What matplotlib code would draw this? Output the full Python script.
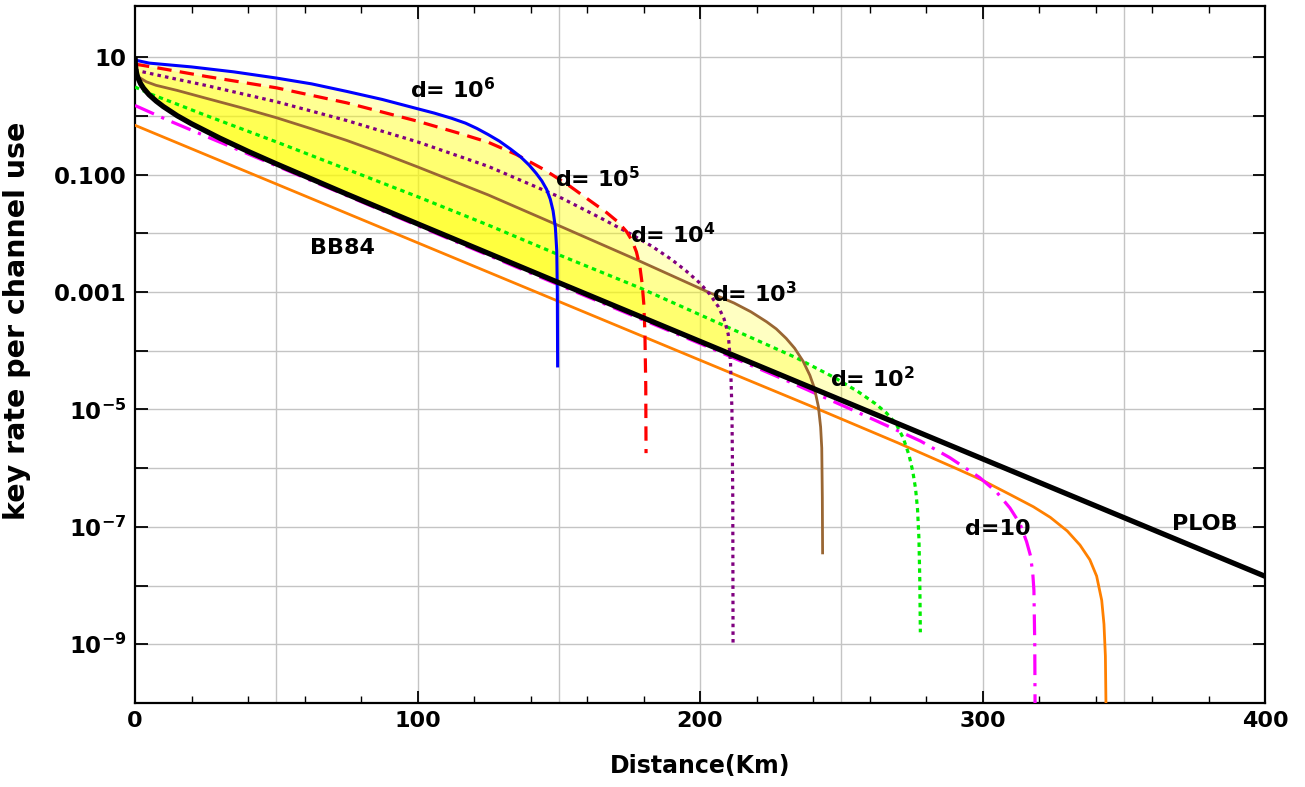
import numpy as np
import matplotlib
matplotlib.use("Agg")
import matplotlib.pyplot as plt
from matplotlib.ticker import FixedLocator, MultipleLocator, NullFormatter

# ---------------------------------------------------------------------------
# Data (distance in km, key rate per channel use)
# ---------------------------------------------------------------------------
plob_x = [0.02, 0.1, 0.3, 0.6, 1, 2, 3, 5, 7.5, 10, 15, 20, 30, 40, 50, 75,
          100, 150, 200, 250, 300, 350, 400]
plob_y = [10.1, 7.76, 6.19, 5.20, 4.47, 3.51, 2.95, 2.28, 1.78, 1.44, 1.00,
          0.732, 0.417, 0.248, 0.152, 0.0463, 0.0145, 1.44e-3, 1.44e-4,
          1.44e-5, 1.44e-6, 1.44e-7, 1.44e-8]

# d = 10^6
d6_x = [0, 5, 20, 35, 50, 62.5, 75, 87.5, 100, 106, 112, 117, 121, 125, 129,
        133, 136.5, 139.5, 142, 144, 145.7, 147, 148, 148.8, 149.3, 149.5,
        149.6]
d6_y = [8.9, 7.9, 6.8, 5.6, 4.4, 3.5, 2.6, 1.9, 1.32, 1.11, 0.91, 0.75, 0.61,
        0.48, 0.37, 0.27, 0.20, 0.145, 0.105, 0.078, 0.056, 0.038, 0.024,
        0.0126, 5.0e-3, 1.0e-3, 5.5e-5]

# d = 10^5
d5_x = [0, 10, 25, 50, 75, 100, 115, 125, 135, 145, 154, 161, 167, 171, 174,
        176, 177.5, 178.7, 179.5, 180.1, 180.5, 180.8, 180.9]
d5_y = [7.6, 6.3, 4.7, 3.0, 1.66, 0.81, 0.50, 0.355, 0.219, 0.120, 0.063,
        0.036, 0.0224, 0.0155, 0.0107, 7.4e-3, 4.8e-3, 2.75e-3, 1.41e-3,
        6.3e-4, 2.0e-4, 2.5e-5, 1.8e-6]

# d = 10^4
d4_x = [0, 10, 25, 50, 75, 100, 125, 150, 165, 175, 183, 190, 195, 200,
        203.5, 206.5, 208.5, 210, 210.8, 211.3, 211.6, 211.7]
d4_y = [6.0, 4.7, 3.3, 1.74, 0.83, 0.36, 0.138, 0.042, 0.018, 0.010, 6.0e-3,
        3.55e-3, 2.3e-3, 1.41e-3, 9.1e-4, 5.6e-4, 3.5e-4, 1.9e-4, 6.3e-5,
        1e-5, 3.2e-7, 1e-9]

# d = 10^3
d3_x = [0, 1.5, 4, 7.5, 15, 25, 37.5, 50, 62.5, 75, 87.5, 100, 125, 150,
        177.5, 202.4, 212, 218, 223.6, 227, 230.5, 233.5, 236.5, 238.9, 240.5,
        241.9, 242.7, 243.1, 243.3, 243.4]
d3_y = [5.2, 4.5, 3.8, 3.3, 2.7, 2.0, 1.38, 0.93, 0.60, 0.38, 0.23, 0.135,
        0.045, 0.0135, 3.55e-3, 1.02e-3, 6.5e-4, 4.6e-4, 3.1e-4, 2.35e-4,
        1.62e-4, 1.1e-4, 6.6e-5, 3.8e-5, 2.3e-5, 1.12e-5, 5.0e-6, 2.2e-6,
        3.2e-7, 3.6e-8]

# d = 10^2
d2_x = [0, 5, 11.8, 25, 50, 75, 100, 125, 150, 178.8, 208, 234, 248, 256,
        262, 266, 269.5, 272, 274, 275.3, 276.3, 277, 277.5, 277.8, 278.0]
d2_y = [3.1, 2.4, 1.8, 1.02, 0.36, 0.123, 0.042, 0.0138, 4.3e-3, 1.17e-3,
        2.75e-4, 7.6e-5, 3.4e-5, 2.0e-5, 1.26e-5, 8.7e-6, 5.6e-6, 3.2e-6,
        1.66e-6, 8.9e-7, 4.5e-7, 2.0e-7, 6.3e-8, 1.26e-8, 1.6e-9]

# d = 10
d1_x = [0, 11.7, 27, 50, 100, 150, 200, 230, 255, 278, 288.5, 299, 305,
        309.7, 313.3, 315.6, 317, 317.8, 318.2, 318.5, 318.6]
d1_y = [1.5, 0.84, 0.41, 0.141, 0.0135, 1.32e-3, 1.32e-4, 3.2e-5, 9.3e-6,
        2.9e-6, 1.5e-6, 6.9e-7, 3.9e-7, 2.1e-7, 1.12e-7, 5.6e-8, 3.2e-8,
        1.6e-8, 8.3e-9, 1e-9, 1e-10]

# BB84
bb84_x = [0, 50, 100, 150, 200, 241, 270, 290, 300, 310, 318, 324, 330,
          334.5, 338, 340.4, 342.2, 343.0, 343.5, 343.7]
bb84_y = [0.69, 0.069, 6.9e-3, 6.9e-4, 6.9e-5, 1.05e-5, 2.7e-6, 1.02e-6,
          6.2e-7, 3.5e-7, 2.2e-7, 1.45e-7, 8.5e-8, 4.9e-8, 2.75e-8, 1.45e-8,
          5.6e-9, 2.2e-9, 6.3e-10, 1e-10]

y_tick_vals = [1e1, 1e0, 1e-1, 1e-2, 1e-3, 1e-4, 1e-5, 1e-6, 1e-7, 1e-8, 1e-9]
y_tick_labels = ['10', '', '0.100', '', '0.001', '', r'$10^{-5}$', '',
                 r'$10^{-7}$', '', r'$10^{-9}$']


def main():
    plt.rcParams['font.family'] = ['DejaVu Sans']
    plt.rcParams['font.weight'] = 'bold'
    plt.rcParams['mathtext.default'] = 'bf'

    fig = plt.figure(figsize=(13.05, 7.87), dpi=100)
    ax = fig.add_axes([135 / 1305, 84 / 787, 1130 / 1305, 697 / 787])
    ax.set_yscale('log')

    # yellow filling between each d curve and the PLOB bound
    plob_log = np.log10(plob_y)
    for cx, cy in [(d6_x, d6_y), (d5_x, d5_y), (d4_x, d4_y), (d3_x, d3_y), (d2_x, d2_y)]:
        xs = np.linspace(0, cx[-1], 1200)
        c_log = np.interp(xs, cx, np.log10(cy))
        p_log = np.interp(xs, plob_x, plob_log)
        ax.fill_between(xs, 10 ** p_log, 10 ** c_log, where=c_log > p_log,
                        interpolate=True, color='#ffff00', alpha=0.24, lw=0, zorder=1)

    # curves
    ax.plot(bb84_x, bb84_y, color='#ff8000', lw=2.0, zorder=3)
    ax.plot(d1_x, d1_y, color='#ff00ff', lw=2.3, dashes=(6.5, 2.5, 1, 2.5), zorder=3)
    ax.plot(d2_x, d2_y, color='#00ee00', lw=2.3, dashes=(1.4, 1.3), zorder=3)
    ax.plot(d3_x, d3_y, color='#996633', lw=2.0, zorder=3)
    ax.plot(d4_x, d4_y, color='#800080', lw=2.3, dashes=(1.1, 1.3), zorder=3)
    ax.plot(d5_x, d5_y, color='#ff0000', lw=2.3, dashes=(4.5, 2.6), zorder=3)
    ax.plot(d6_x, d6_y, color='#0000ff', lw=2.2, zorder=3)
    ax.plot(plob_x, plob_y, color='black', lw=3.8, zorder=4, solid_capstyle='butt')

    # labels on the curves
    fs = 16
    ax.text(97.3, 2.75, r'd= $10^{6}$', fontsize=fs, ha='left', va='center', zorder=5)
    ax.text(148.7, 0.085, r'd= $10^{5}$', fontsize=fs, ha='left', va='center', zorder=5)
    ax.text(175.2, 0.0095, r'd= $10^{4}$', fontsize=fs, ha='left', va='center', zorder=5)
    ax.text(204.2, 9.5e-4, r'd= $10^{3}$', fontsize=fs, ha='left', va='center', zorder=5)
    ax.text(246, 3.4e-5, r'd= $10^{2}$', fontsize=fs, ha='left', va='center', zorder=5)
    ax.text(293.8, 9.3e-8, 'd=10', fontsize=fs, ha='left', va='center', zorder=5)
    ax.text(61.9, 5.7e-3, 'BB84', fontsize=fs, ha='left', va='center', zorder=5)
    ax.text(367, 1.1e-7, 'PLOB', fontsize=fs, ha='left', va='center', zorder=5)

    # axes limits and ticks
    ax.set_xlim(0, 400)
    ax.set_ylim(1e-10, 10 ** 1.87)
    ax.xaxis.set_major_locator(MultipleLocator(100))
    ax.xaxis.set_minor_locator(MultipleLocator(20))
    ax.yaxis.set_major_locator(FixedLocator(y_tick_vals))
    ax.yaxis.set_minor_locator(FixedLocator([]))
    ax.yaxis.set_minor_formatter(NullFormatter())
    ax.set_yticklabels(y_tick_labels)
    ax.tick_params(axis='both', which='major', direction='in', length=9, width=1.3,
                   labelsize=16, top=True, right=True, pad=6)
    ax.tick_params(axis='y', which='major', labelsize=16.5)
    ax.tick_params(axis='x', which='minor', direction='in', length=5, width=1.0,
                   top=True)
    for lab in ax.get_xticklabels() + ax.get_yticklabels():
        lab.set_fontweight('bold')

    # grid at every 50 km and every decade
    for gx in range(50, 400, 50):
        ax.axvline(gx, color='#c4c4c4', lw=1.0, zorder=0)
    for gy in y_tick_vals:
        ax.axhline(gy, color='#c4c4c4', lw=1.0, zorder=0)

    for sp in ax.spines.values():
        sp.set_linewidth(1.6)

    ax.set_xlabel('Distance(Km)', fontsize=17, fontweight='bold', labelpad=16)
    ax.set_ylabel('key rate per channel use', fontsize=20.5, fontweight='bold')
    ax.yaxis.set_label_coords(-0.092, 0.548)

    fig.savefig('out.png', dpi=100)


if __name__ == "__main__":
    main()
